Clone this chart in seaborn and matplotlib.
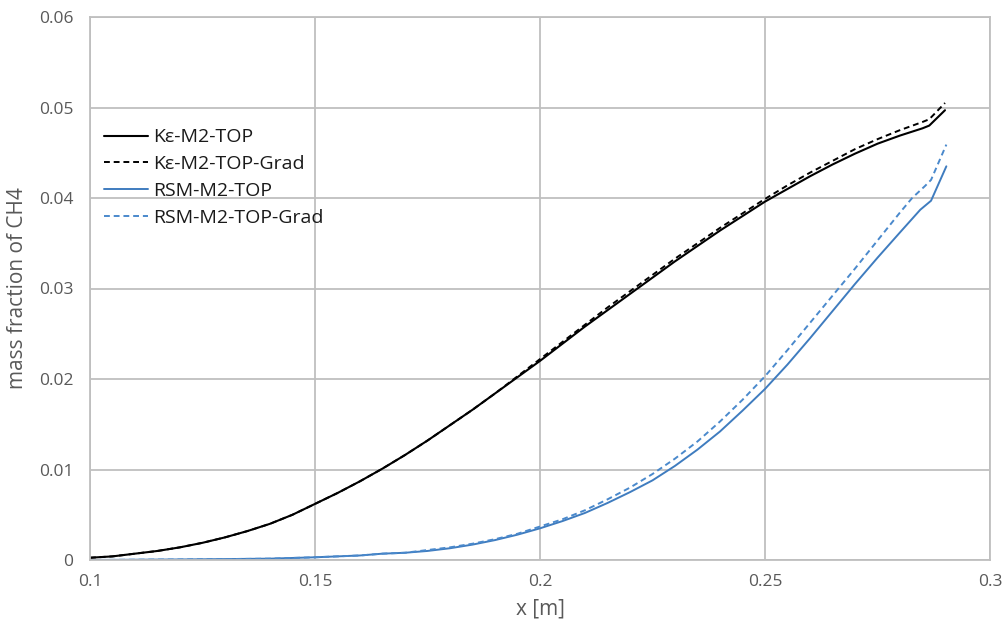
import numpy as np
import pandas as pd
import matplotlib
matplotlib.use("Agg")
import matplotlib.pyplot as plt
import seaborn as sns

# K-epsilon, M2-TOP
ke_x = [0.100, 0.105, 0.110, 0.115, 0.120, 0.125, 0.130, 0.135, 0.140, 0.145,
        0.150, 0.155, 0.160, 0.165, 0.170, 0.175, 0.180, 0.185, 0.190, 0.195,
        0.200, 0.205, 0.210, 0.215, 0.220, 0.225, 0.230, 0.235, 0.240, 0.245,
        0.250, 0.255, 0.260, 0.265, 0.270, 0.275, 0.280, 0.285, 0.2865, 0.290]
ke_y = [0.00025, 0.0004, 0.0007, 0.0010, 0.0014, 0.0019, 0.0025, 0.0032, 0.0040, 0.0050,
        0.0062, 0.0074, 0.0087, 0.0101, 0.0116, 0.0132, 0.0149, 0.0166, 0.0184, 0.0202,
        0.0220, 0.0239, 0.0258, 0.0276, 0.0294, 0.0312, 0.0330, 0.0347, 0.0364, 0.0380,
        0.0396, 0.0410, 0.0424, 0.0437, 0.0449, 0.0460, 0.0469, 0.0477, 0.0480, 0.0497]

ke_grad_x = ke_x
ke_grad_y = [0.00025, 0.0004, 0.0007, 0.0010, 0.0014, 0.0019, 0.0025, 0.0032, 0.0040, 0.0050,
             0.0062, 0.0074, 0.0087, 0.0101, 0.0116, 0.0132, 0.0149, 0.0166, 0.0184, 0.0203,
             0.0222, 0.0241, 0.0260, 0.0279, 0.0297, 0.0315, 0.0333, 0.0350, 0.0367, 0.0383,
             0.0399, 0.0414, 0.0428, 0.0441, 0.0454, 0.0465, 0.0475, 0.0484, 0.0487, 0.0505]

# RSM, M2-TOP
rsm_x = [0.100, 0.110, 0.120, 0.130, 0.140, 0.150, 0.155, 0.160, 0.165, 0.170,
         0.175, 0.180, 0.185, 0.190, 0.195, 0.200, 0.205, 0.210, 0.215, 0.220,
         0.225, 0.230, 0.235, 0.240, 0.245, 0.250, 0.255, 0.260, 0.265, 0.270,
         0.275, 0.280, 0.2845, 0.2869, 0.2903]
rsm_y = [0.0000, 0.00003, 0.00006, 0.0001, 0.00015, 0.0003, 0.0004, 0.0005, 0.0007, 0.0008,
         0.0010, 0.0013, 0.0017, 0.0022, 0.0028, 0.0035, 0.0043, 0.0052, 0.0063, 0.0075,
         0.0088, 0.0104, 0.0122, 0.0142, 0.0165, 0.0189, 0.0216, 0.0245, 0.0275, 0.0305,
         0.0334, 0.0362, 0.0387, 0.0397, 0.0435]

rsm_grad_x = [0.100, 0.110, 0.120, 0.130, 0.140, 0.150, 0.155, 0.160, 0.165, 0.170,
              0.175, 0.180, 0.185, 0.190, 0.195, 0.200, 0.205, 0.210, 0.215, 0.220,
              0.225, 0.230, 0.235, 0.240, 0.245, 0.250, 0.255, 0.260, 0.265, 0.270,
              0.275, 0.280, 0.2827, 0.2855, 0.2869, 0.2903]
rsm_grad_y = [0.0000, 0.00003, 0.00006, 0.0001, 0.00015, 0.0003, 0.0004, 0.0005, 0.0007, 0.0008,
              0.0011, 0.0014, 0.0018, 0.0023, 0.0029, 0.0037, 0.0045, 0.0055, 0.0067, 0.0080,
              0.0095, 0.0112, 0.0131, 0.0153, 0.0177, 0.0203, 0.0232, 0.0262, 0.0292, 0.0322,
              0.0353, 0.0384, 0.0400, 0.0413, 0.0420, 0.0459]

labels = ["Kε-M2-TOP", "Kε-M2-TOP-Grad", "RSM-M2-TOP", "RSM-M2-TOP-Grad"]
x_ticks = [0.1, 0.15, 0.2, 0.25, 0.3]
x_tick_labels = ["0.1", "0.15", "0.2", "0.25", "0.3"]
y_ticks = [0, 0.01, 0.02, 0.03, 0.04, 0.05, 0.06]
y_tick_labels = ["0", "0.01", "0.02", "0.03", "0.04", "0.05", "0.06"]

sns.set_style("white")
plt.rcParams['font.family'] = ['Open Sans', 'DejaVu Sans']

grey_text = "#595959"
grid_col = "#BFBFBF"

fig = plt.figure(figsize=(10.05, 6.28), dpi=100)
ax = fig.add_axes([90 / 1005, 68 / 628, 900 / 1005, 543 / 628])

sns.lineplot(x=ke_x, y=ke_y, ax=ax, color="black", lw=1.5, label=labels[0], sort=False)
sns.lineplot(x=ke_grad_x, y=ke_grad_y, ax=ax, color="black", lw=1.4, label=labels[1],
             sort=False, linestyle=(0, (3, 2)))
sns.lineplot(x=rsm_x, y=rsm_y, ax=ax, color="#3F7CBF", lw=1.4, label=labels[2], sort=False)
sns.lineplot(x=rsm_grad_x, y=rsm_grad_y, ax=ax, color="#4A89CC", lw=1.4, label=labels[3],
             sort=False, linestyle=(0, (3, 2)))

ax.set_xlim(0.1, 0.3)
ax.set_ylim(0, 0.06)
ax.set_xticks(x_ticks)
ax.set_xticklabels(x_tick_labels)
ax.set_yticks(y_ticks)
ax.set_yticklabels(y_tick_labels)
ax.tick_params(axis="both", length=0, labelsize=12.5, labelcolor=grey_text)
ax.tick_params(axis="x", pad=10)
ax.tick_params(axis="y", pad=12)
ax.grid(True, color=grid_col, lw=1.3)
for s in ax.spines.values():
    s.set_color(grid_col)
    s.set_linewidth(1.3)

ax.set_xlabel("x [m]", fontsize=15, color=grey_text, labelpad=6)
ax.set_ylabel("mass fraction of CH4", fontsize=15, color=grey_text, labelpad=8)

leg = ax.legend(loc="upper left", bbox_to_anchor=(0.0, 0.82), frameon=False,
                fontsize=14, handlelength=2.3, handletextpad=0.25, labelspacing=0.45,
                borderaxespad=0.3)
for t in leg.get_texts():
    t.set_color("#1a1a1a")

fig.savefig("out.png", dpi=100)
